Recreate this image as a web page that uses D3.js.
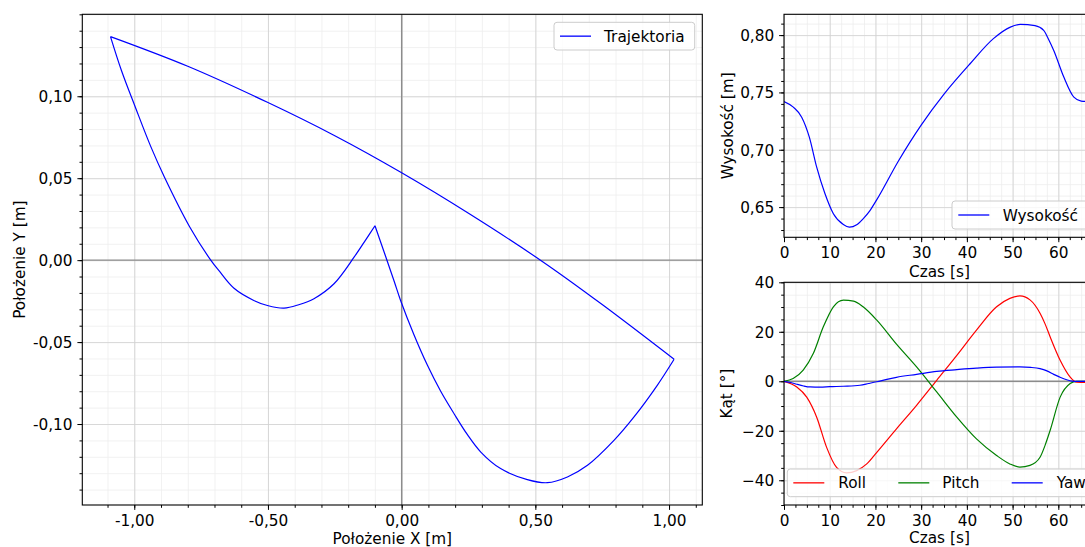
<!DOCTYPE html>
<html>
<head>
<meta charset="utf-8">
<script src="https://cdn.jsdelivr.net/npm/d3@7"></script>
<style>
  body { margin: 0; background: #fff; }
  svg { display: block; }
  text { font-family: "DejaVu Sans", sans-serif; font-size: 15.3px; fill: #000; }
</style>
</head>
<body>
<svg id="chart" width="1085" height="547"></svg>
<script>
// ---- Trajectory in the XY plane [m] ----
const trajX = [-1.089, -0.80, -0.502, -0.25, 0.0, 0.25, 0.526, 0.75, 1.019,
  0.956, 0.869, 0.794, 0.695, 0.62, 0.545, 0.470, 0.370, 0.296, 0.246, 0.196, 0.146, 0.096, 0.046, -0.004, -0.029, -0.0998,
  -0.14, -0.178, -0.253, -0.328, -0.385, -0.440, -0.502, -0.553, -0.627, -0.684, -0.714, -0.792, -0.887, -0.937, -0.996, -1.048, -1.089];
const trajY = [0.1364, 0.1183, 0.0963, 0.0759, 0.0533, 0.0286, -0.0008, -0.0271, -0.0605,
  -0.0764, -0.0957, -0.110, -0.1252, -0.1323, -0.1358, -0.1339, -0.1272, -0.1171, -0.1065, -0.0937, -0.0800, -0.0640, -0.0455, -0.0246, -0.0124, 0.0210,
  0.0110, 0.0018, -0.0144, -0.0235, -0.0272, -0.0293, -0.0277, -0.0246, -0.0172, -0.0063, 0.0, 0.0201, 0.0506, 0.0688, 0.0933, 0.1157, 0.1364];
// indices of the sharp turning points along the path
const trajCorners = [8, 25];

// ---- Height over time ----
const heightT = [0, 2.04, 3.87, 5.54, 7.15, 8.97, 10.8, 12.98, 14.3, 15.9, 17.3, 18.8, 20.3, 25, 30, 35, 40.7, 45.8, 49.5, 51.7, 54.9, 56.8, 57.8, 59.0, 61.2, 63.4, 65.0, 66.5, 68];
const heightV = [0.7421, 0.7372, 0.7284, 0.711, 0.6848, 0.6616, 0.6442, 0.6348, 0.6325, 0.6346, 0.6398, 0.647, 0.6565, 0.690, 0.7215, 0.7485, 0.775, 0.7969, 0.807, 0.8093, 0.8082, 0.8041, 0.7969, 0.7866, 0.7634, 0.7459, 0.7425, 0.7421, 0.7421];

// ---- Orientation angles over time [deg] ----
const rollT = [0, 2.8, 4.97, 7.15, 9.3, 11.5, 13.7, 15.9, 18.1, 20.3, 24.6, 29, 33.4, 37.8, 42.1, 46.5, 49.4, 51.6, 53.8, 56, 57.1, 58.2, 60.4, 62.6, 64, 66, 68];
const rollV = [0, -2.3, -6.4, -14.5, -26.6, -34.8, -37.0, -36.1, -33.4, -28.7, -19.2, -9.7, 0.4, 10.5, 20.7, 30.1, 33.5, 34.5, 32.9, 27.5, 23.2, 18, 8.5, 1.7, -0.4, -0.5, -0.5];
const pitchT = [0, 2, 4.2, 6.4, 8.6, 10.8, 13, 15.2, 17.3, 20.3, 24.6, 29, 33.4, 37.8, 42.1, 46.5, 49.4, 51.6, 53.8, 56, 57.1, 58.2, 60.4, 62.6, 64, 66, 68];
const pitchV = [0, 1.1, 4.5, 11.2, 22, 30.1, 32.8, 32.4, 30.1, 24.7, 15, 5.8, -4.3, -14.5, -23.3, -30, -33.4, -34.7, -34, -30.7, -25.9, -19.9, -6.4, -0.9, 0, 0, 0];
const yawT = [0, 1.5, 2.8, 4.3, 5.7, 7.9, 10, 13, 16.6, 18.5, 20.3, 22.5, 24.6, 29, 33.4, 37.8, 42.1, 46.5, 51.6, 54, 56, 57.5, 59, 60.5, 62, 63, 64, 66, 68];
const yawV = [0, -0.5, -1.2, -1.9, -2.3, -2.4, -2.2, -2.0, -1.6, -0.9, -0.2, 0.8, 1.6, 2.8, 4.0, 4.7, 5.3, 5.7, 5.8, 5.6, 5.1, 4.2, 2.8, 1.5, 0.5, 0.1, 0, 0, 0];

// ---- Tick values ----
const xyXTicks = [-1.0, -0.5, 0.0, 0.5, 1.0];
const xyYTicks = [-0.10, -0.05, 0.0, 0.05, 0.10];
const timeTicks = [0, 10, 20, 30, 40, 50, 60];
const heightTicks = [0.65, 0.70, 0.75, 0.80];
const angleTicks = [-40, -20, 0, 20, 40];
const timeMax = 68;
const angleDomain = [-50, 40];

// ---- Labels ----
const labXY = { x: "Położenie X [m]", y: "Położenie Y [m]", legend: "Trajektoria" };
const labH = { x: "Czas [s]", y: "Wysokość [m]", legend: "Wysokość" };
const labA = { x: "Czas [s]", y: "Kąt [°]" };
const angleNames = ["Roll", "Pitch", "Yaw"];

// ------------------------------------------------------------
const svg = d3.select("#chart");
const plLocale = d3.formatLocale({ decimal: ",", thousands: ".", grouping: [3], currency: ["", ""], minus: "-" });
const fmt2 = plLocale.format(".2f");
const fmtInt = d3.format("d");

const MAJ = 4.9, MIN = 2.8, PAD = 4.9;

function padExtent(vals) {
  const [a, b] = d3.extent(vals);
  const m = (b - a) * 0.05;
  return [a - m, b + m];
}
function stepRange(lo, hi, step) {
  const out = [];
  const i0 = Math.ceil(lo / step - 1e-9), i1 = Math.floor(hi / step + 1e-9);
  for (let i = i0; i <= i1; i++) out.push(+(i * step).toFixed(6));
  return out;
}

function gridLayer(parent, axis, transform, color) {
  parent.append("g").attr("transform", transform).call(axis)
    .call(s => s.select(".domain").remove())
    .selectAll("line").attr("stroke", color).attr("stroke-width", 0.8);
}

function panel(cfg) {
  const { id, box, x, y } = cfg;
  const g = svg.append("g");
  const w = box.r - box.l, h = box.b - box.t;
  svg.append("defs").append("clipPath").attr("id", id)
    .append("rect").attr("x", box.l).attr("y", box.t).attr("width", w).attr("height", h);

  const xMinor = stepRange(x.domain()[0], x.domain()[1], cfg.xMinorStep);
  const yMinor = stepRange(y.domain()[0], y.domain()[1], cfg.yMinorStep);

  const grid = g.append("g").attr("clip-path", `url(#${id})`);
  gridLayer(grid, d3.axisBottom(x).tickValues(xMinor).tickSize(-h).tickFormat(""), `translate(0,${box.b})`, "#ededed");
  gridLayer(grid, d3.axisLeft(y).tickValues(yMinor).tickSize(-w).tickFormat(""), `translate(${box.l},0)`, "#ededed");
  gridLayer(grid, d3.axisBottom(x).tickValues(cfg.xTicks).tickSize(-h).tickFormat(""), `translate(0,${box.b})`, "#d0d0d0");
  gridLayer(grid, d3.axisLeft(y).tickValues(cfg.yTicks).tickSize(-w).tickFormat(""), `translate(${box.l},0)`, "#d0d0d0");

  // zero reference lines
  if (cfg.zeroH) grid.append("line").attr("x1", box.l).attr("x2", box.r)
    .attr("y1", y(0)).attr("y2", y(0)).attr("stroke", "#8c8c8c").attr("stroke-width", 1.4);
  if (cfg.zeroV) grid.append("line").attr("y1", box.t).attr("y2", box.b)
    .attr("x1", x(0)).attr("x2", x(0)).attr("stroke", "#8c8c8c").attr("stroke-width", 1.4);

  const plot = g.append("g").attr("clip-path", `url(#${id})`);

  // frame
  g.append("rect").attr("x", box.l).attr("y", box.t).attr("width", w).attr("height", h)
    .attr("fill", "none").attr("stroke", "#000").attr("stroke-width", 1.1);

  // ticks
  const axes = g.append("g");
  axes.append("g").attr("transform", `translate(0,${box.b})`)
    .call(d3.axisBottom(x).tickValues(xMinor).tickSize(MIN).tickFormat(""));
  axes.append("g").attr("transform", `translate(${box.l},0)`)
    .call(d3.axisLeft(y).tickValues(yMinor).tickSize(MIN).tickFormat(""));
  axes.append("g").attr("transform", `translate(0,${box.b})`)
    .call(d3.axisBottom(x).tickValues(cfg.xTicks).tickSizeInner(MAJ).tickSizeOuter(0).tickPadding(PAD).tickFormat(cfg.xFmt));
  const by = axes.append("g").attr("transform", `translate(${box.l},0)`)
    .call(d3.axisLeft(y).tickValues(cfg.yTicks).tickSizeInner(MAJ).tickSizeOuter(0).tickPadding(PAD).tickFormat(cfg.yFmt));
  axes.selectAll(".domain").remove();
  axes.selectAll(".tick line").attr("stroke", "#000").attr("stroke-width", 1);
  axes.selectAll(".tick text").attr("font-size", null).attr("font-family", null).attr("fill", "#000");
  by.selectAll(".tick text").attr("dy", "0.36em");

  // axis titles
  g.append("text").attr("x", (box.l + box.r) / 2).attr("y", cfg.xLabelY)
    .attr("text-anchor", "middle").text(cfg.xLabel);
  g.append("text").attr("transform", `translate(${cfg.yLabelX},${(box.t + box.b) / 2}) rotate(-90)`)
    .attr("text-anchor", "middle").text(cfg.yLabel);

  return { g, plot };
}

function legend(items, boxX, boxY, boxW, boxH) {
  const lg = svg.append("g");
  lg.append("rect").attr("x", boxX).attr("y", boxY).attr("width", boxW).attr("height", boxH)
    .attr("rx", 3).attr("fill", "#fff").attr("fill-opacity", 0.8)
    .attr("stroke", "#cccccc").attr("stroke-width", 1);
  const cy = boxY + boxH / 2;
  items.forEach(it => {
    lg.append("line").attr("x1", it.hx).attr("x2", it.hx + 31).attr("y1", cy).attr("y2", cy)
      .attr("stroke", it.color).attr("stroke-width", 1.3);
    lg.append("text").attr("x", it.tx).attr("y", cy).attr("dy", "0.36em").text(it.label);
  });
}

// ---- Panel 1: XY trajectory ----
const boxXY = { l: 82.3, t: 14.3, r: 702.3, b: 505 };
const xXY = d3.scaleLinear().domain(padExtent(trajX)).range([boxXY.l, boxXY.r]);
const yXY = d3.scaleLinear().domain(padExtent(trajY)).range([boxXY.b, boxXY.t]);
const p1 = panel({ id: "clipXY", box: boxXY, x: xXY, y: yXY, xTicks: xyXTicks, yTicks: xyYTicks,
  xMinorStep: 0.1, yMinorStep: 0.01, xFmt: fmt2, yFmt: fmt2, zeroH: true, zeroV: true,
  xLabel: labXY.x, yLabel: labXY.y, xLabelY: 544, yLabelX: 25 });
const trajPts = trajX.map((v, i) => [v, trajY[i]]);
const cuts = [0, ...trajCorners, trajPts.length - 1];
const trajLine = d3.line().x(d => xXY(d[0])).y(d => yXY(d[1])).curve(d3.curveCatmullRom.alpha(0.5));
// each smooth stretch between sharp turns is drawn on its own
const trajPath = cuts.slice(0, -1).map((c, k) => trajLine(trajPts.slice(c, cuts[k + 1] + 1))).join("");
p1.plot.append("path").attr("d", trajPath)
  .attr("fill", "none").attr("stroke", "#0000ff").attr("stroke-width", 1.2).attr("stroke-linejoin", "miter");
legend([{ color: "#0000ff", label: labXY.legend, hx: 560, tx: 604 }], 554, 22.3, 140.7, 27.7);

// ---- Panel 2: height ----
const boxH = { l: 784, t: 14.3, r: 1094.9, b: 237.3 };
const xT1 = d3.scaleLinear().domain([0, timeMax]).range([boxH.l, boxH.r]);
const yH = d3.scaleLinear().domain(padExtent(heightV)).range([boxH.b, boxH.t]);
const p2 = panel({ id: "clipH", box: boxH, x: xT1, y: yH, xTicks: timeTicks, yTicks: heightTicks,
  xMinorStep: 2.5, yMinorStep: 0.01, xFmt: fmtInt, yFmt: fmt2, zeroH: false, zeroV: false,
  xLabel: labH.x, yLabel: labH.y, xLabelY: 276.7, yLabelX: 733 });
p2.plot.append("path").datum(heightT.map((t, i) => [t, heightV[i]]))
  .attr("d", d3.line().x(d => xT1(d[0])).y(d => yH(d[1])).curve(d3.curveMonotoneX))
  .attr("fill", "none").attr("stroke", "#0000ff").attr("stroke-width", 1.2);
legend([{ color: "#0000ff", label: labH.legend, hx: 958.3, tx: 1002.7 }], 952, 201, 140, 28);

// ---- Panel 3: angles ----
const boxA = { l: 784, t: 282.3, r: 1094.9, b: 505 };
const xT2 = d3.scaleLinear().domain([0, timeMax]).range([boxA.l, boxA.r]);
const yA = d3.scaleLinear().domain(angleDomain).range([boxA.b, boxA.t]);
const p3 = panel({ id: "clipA", box: boxA, x: xT2, y: yA, xTicks: timeTicks, yTicks: angleTicks,
  xMinorStep: 2.5, yMinorStep: 5, xFmt: fmtInt, yFmt: fmtInt, zeroH: true, zeroV: false,
  xLabel: labA.x, yLabel: labA.y, xLabelY: 543.3, yLabelX: 732 });
const angleSeries = [
  { t: rollT, v: rollV, color: "#ff0000" },
  { t: pitchT, v: pitchV, color: "#008000" },
  { t: yawT, v: yawV, color: "#0000ff" }
];
const angLine = d3.line().x(d => xT2(d[0])).y(d => yA(d[1])).curve(d3.curveMonotoneX);
angleSeries.forEach(s => {
  p3.plot.append("path").datum(s.t.map((t, i) => [t, s.v[i]]))
    .attr("d", angLine).attr("fill", "none").attr("stroke", s.color).attr("stroke-width", 1.2);
});
legend([
  { color: "#ff0000", label: angleNames[0], hx: 793.3, tx: 838.3 },
  { color: "#008000", label: angleNames[1], hx: 898.3, tx: 942.3 },
  { color: "#0000ff", label: angleNames[2], hx: 1011.7, tx: 1056.7 }
], 787.3, 469, 320, 27.7);
</script>
</body>
</html>
